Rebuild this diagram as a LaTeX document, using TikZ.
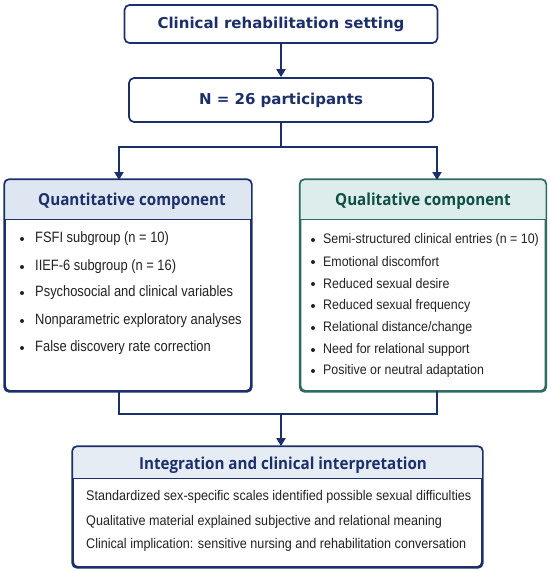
\documentclass[tikz,border=0pt]{standalone}
\usepackage{fontspec}
\setmainfont{Liberation Sans}[FakeStretch=0.9]
\newfontfamily\narrowfont{Liberation Sans}[FakeStretch=0.86]
\newfontfamily\topfont{DejaVu Sans}[BoldFont={DejaVu Sans Bold}]
\newfontfamily\hdrfont{Open Sans Bold}[FakeStretch=0.92]
\usetikzlibrary{arrows.meta,calc}
\definecolor{navy}{HTML}{1B2F6B}
\definecolor{teal}{HTML}{2E6B62}
\definecolor{tealtext}{HTML}{0E4F45}
\definecolor{hdrblue}{HTML}{DDE6F1}
\definecolor{hdrteal}{HTML}{DCEDEB}
\definecolor{hdrint}{HTML}{E6ECF4}
\definecolor{bodytext}{HTML}{222222}
\tikzset{
  x=1pt, y=-1pt,
  boxstyle/.style={draw=navy, line width=1.7pt, rounded corners=5pt, fill=white},
  topstyle/.style={boxstyle, font=\topfont\bfseries\fontsize{15}{18}\selectfont, text=navy},
  linkline/.style={draw=navy, line width=2.2pt},
  linkarrow/.style={linkline, -{Triangle[width=9pt,length=8pt]}},
  hdrtext/.style={font=\hdrfont\fontsize{16.5}{19}\selectfont},
  bodyline/.style={anchor=west, font=\fontsize{14}{16}\selectfont, text=bodytext, inner sep=0pt},
  leftline/.style={bodyline, font=\narrowfont\fontsize{15}{17}\selectfont},
  rightline/.style={bodyline, font=\fontsize{13.8}{16}\selectfont},
  dot/.style={circle, fill=bodytext, inner sep=0pt, minimum size=4pt}
}
\begin{document}
\begin{tikzpicture}
\useasboundingbox[fill=white] (0,0) rectangle (550,571);

% top boxes
\node[topstyle, minimum width=313pt, minimum height=38pt] (top) at (281,24) {Clinical rehabilitation setting};
\node[topstyle, minimum width=304pt, minimum height=44pt] (n) at (281,100) {N = 26 participants};
\draw[linkarrow] (top.south) -- (n.north);

% component boxes
\node[boxstyle, minimum width=246pt, minimum height=211pt] (qn) at (128,285.5) {};
\node[boxstyle, draw=teal, minimum width=245pt, minimum height=211pt] (ql) at (423,285.5) {};

% headers
\fill[hdrblue, rounded corners=5pt] (qn.north west) rectangle ($(qn.north east)+(0,40)$);
\fill[hdrblue] ($(qn.north west)+(0,30)$) rectangle ($(qn.north east)+(0,40)$);
\draw[navy, line width=0.8pt] ($(qn.north west)+(0,40)$) -- ($(qn.north east)+(0,40)$);
\draw[boxstyle, fill=none] (qn.north west) rectangle (qn.south east);

\fill[hdrteal, rounded corners=5pt] (ql.north west) rectangle ($(ql.north east)+(0,40)$);
\fill[hdrteal] ($(ql.north west)+(0,30)$) rectangle ($(ql.north east)+(0,40)$);
\draw[teal, line width=0.8pt] ($(ql.north west)+(0,40)$) -- ($(ql.north east)+(0,40)$);
\draw[boxstyle, draw=teal, fill=none] (ql.north west) rectangle (ql.south east);

\node[hdrtext, text=navy] (qnh) at (132,201) {Quantitative component};
\node[hdrtext, text=tealtext] (qlh) at (423,201) {Qualitative component};

% left bullets
\foreach \t/\y [count=\i] in {{FSFI subgroup (n = 10)}/239, {IIEF-6 subgroup (n = 16)}/267, {Psychosocial and clinical variables}/293, {Nonparametric exploratory analyses}/321, {False discovery rate correction}/348}{
  \node[dot] (ld\i) at (22,\y) {};
  \node[leftline] (lt\i) at (35,\y) {\t};
}
% right bullets
\foreach \t/\y [count=\i] in {{Semi-structured clinical entries (n = 10)}/240, {Emotional discomfort}/262, {Reduced sexual desire}/284, {Reduced sexual frequency}/306, {Relational distance/change}/328, {Need for relational support}/350, {Positive or neutral adaptation}/371}{
  \node[dot] (rd\i) at (313,\y) {};
  \node[rightline] (rt\i) at (323,\y) {\t};
}

% branching
\coordinate (split) at (281,147);
\coordinate (lin) at (119,180);
\coordinate (rin) at (437,180);
\draw[linkline] (n.south) -- (split);
\draw[linkarrow] (split) -| (lin);
\draw[linkarrow] (split) -| (rin);

% integration box
\node[boxstyle, minimum width=409pt, minimum height=120pt] (ig) at (277.5,507) {};
\fill[hdrint, rounded corners=5pt] (ig.north west) rectangle ($(ig.north east)+(0,32)$);
\fill[hdrint] ($(ig.north west)+(0,22)$) rectangle ($(ig.north east)+(0,32)$);
\draw[navy, line width=0.8pt] ($(ig.north west)+(0,32)$) -- ($(ig.north east)+(0,32)$);
\draw[boxstyle, fill=none] (ig.north west) rectangle (ig.south east);
\node[hdrtext, text=navy] (igh) at (283,465) {Integration and clinical interpretation};
\node[bodyline] (b1) at (86,497) {Standardized sex-specific scales identified possible sexual difficulties};
\node[bodyline] (b2) at (86,522) {Qualitative material explained subjective and relational meaning};
\node[bodyline] (b3) at (86,545) {Clinical implication: sensitive nursing and rehabilitation conversation};

% merge
\coordinate (lout) at (119,391);
\coordinate (rout) at (437,391);
\coordinate (merge) at (281,414);
\draw[linkline] (lout) |- (merge);
\draw[linkline] (rout) |- (merge);
\draw[linkarrow] (merge) -- (ig.north -| merge);
\end{tikzpicture}
\end{document}
